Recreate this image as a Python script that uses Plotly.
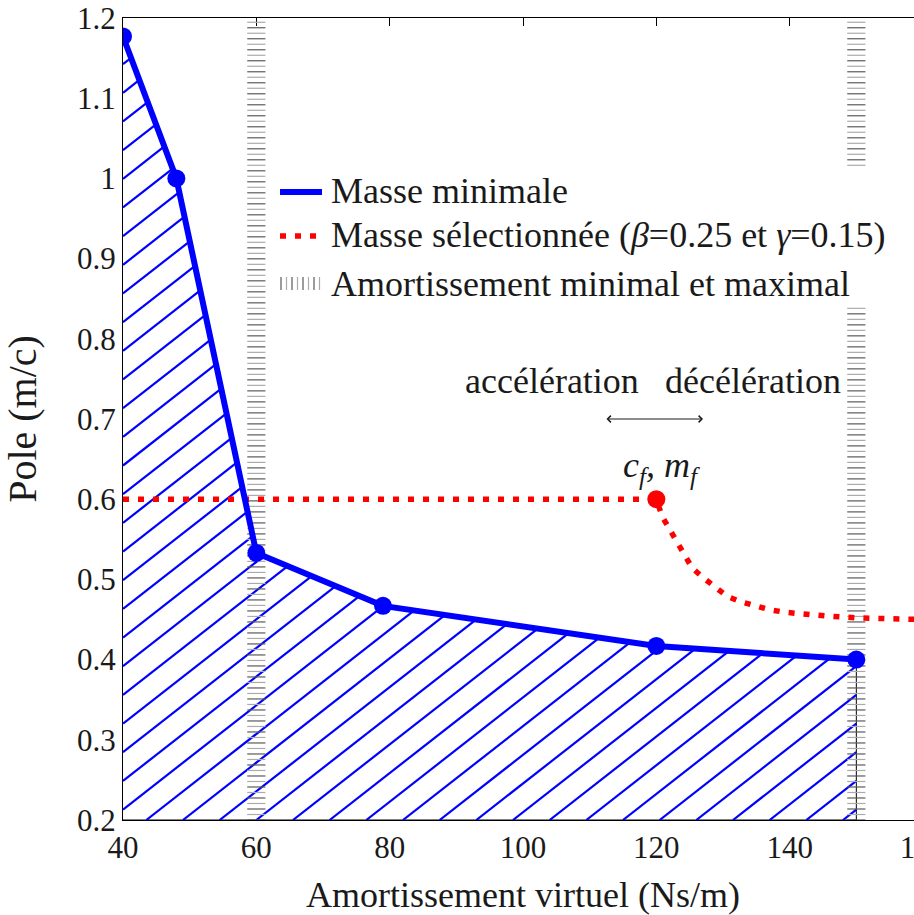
import numpy as np
import plotly.graph_objects as go

# Minimum-mass frontier: virtual damping (Ns/m) vs pole (m/c)
damping_min = [40, 48, 60, 79, 120, 150]
pole_min = [1.177, 1.0, 0.533, 0.467, 0.417, 0.400]

# Selected mass path (beta = 0.25, gamma = 0.15)
damping_sel = [40, 120, 120.9, 122.0, 123.0, 124.2, 125.4, 127.2, 129.0, 130.6,
               132.7, 134.9, 137.1, 139.3, 141.5, 146.0, 150.4, 155.0, 160.0]
pole_sel = [0.600, 0.600, 0.578, 0.562, 0.546, 0.528, 0.514, 0.501, 0.489, 0.479,
            0.472, 0.467, 0.462, 0.459, 0.457, 0.454, 0.452, 0.451, 0.450]

# Final operating point (c_f, m_f)
c_f = [120]
m_f = [0.600]

# Minimum and maximum damping
damping_limits = [60, 150]

x_ticks = [40, 60, 80, 100, 120, 140, 160]
y_ticks = [0.2, 0.3, 0.4, 0.5, 0.6, 0.7, 0.8, 0.9, 1.0, 1.1, 1.2]
y_tick_labels = ["0.2", "0.3", "0.4", "0.5", "0.6", "0.7", "0.8", "0.9", "1", "1.1", "1.2"]

X_RANGE = [40, 160]
Y_RANGE = [0.2, 1.2]

FONT = "'Liberation Serif', 'Times New Roman', 'DejaVu Serif', serif"
TXT = "#1a1a1a"
BLUE = "#0000ff"
RED = "#ff0000"

# Figure geometry (plot area in pixels)
W, H = 940, 915
ML, MR, MT, MB = 123, W - 923, 18, 95
PW, PH = W - ML - MR, H - MT - MB


def px(xp):
    return (xp - ML) / PW


def py(yp):
    return (H - MB - yp) / PH


fig = go.Figure()

# Region below the minimum-mass frontier (white patch, thin black edge)
poly_x = damping_min + [damping_min[-1], damping_min[0]]
poly_y = pole_min + [Y_RANGE[0], Y_RANGE[0]]
fig.add_trace(go.Scatter(
    x=poly_x, y=poly_y, mode="lines", fill="toself", fillcolor="white",
    line=dict(color="black", width=1), hoverinfo="skip", showlegend=False))

# Diagonal hatching clipped to the region under the frontier
hatch_step = 5.5
hatch_slope = 0.0065
hatch_start = 43.5
x_lo, x_hi, y_lo = damping_min[0], damping_min[-1], Y_RANGE[0]


def frontier(x):
    return float(np.interp(x, damping_min, pole_min))


hx, hy = [], []
for k in range(-40, 30):
    x0 = hatch_start + k * hatch_step

    def line(x):
        return y_lo + hatch_slope * (x - x0)

    if x0 >= x_lo:
        xs, ys = x0, y_lo
    else:
        xs, ys = x_lo, line(x_lo)
    if xs >= x_hi or ys >= frontier(xs):
        continue
    if line(x_hi) <= frontier(x_hi):
        xe = x_hi
    else:
        a, b = xs, x_hi
        for _ in range(60):
            mid = 0.5 * (a + b)
            if line(mid) < frontier(mid):
                a = mid
            else:
                b = mid
        xe = 0.5 * (a + b)
    hx += [xs, xe, None]
    hy += [ys, line(xe), None]

fig.add_trace(go.Scatter(
    x=hx, y=hy, mode="lines", line=dict(color=BLUE, width=2.2),
    hoverinfo="skip", showlegend=False))

# Damping limits drawn as stacks of short horizontal ticks
tick_y = np.arange(Y_RANGE[0], Y_RANGE[1] + 1e-9, 0.00686)
tick_cols = ["#5a5a5a" if i % 2 == 0 else "#ababab" for i in range(len(tick_y))]
for c in damping_limits:
    fig.add_trace(go.Scatter(
        x=[c] * len(tick_y), y=tick_y, mode="markers",
        marker=dict(symbol="line-ew", size=13,
                    line=dict(width=1.2, color=tick_cols)),
        hoverinfo="skip", showlegend=False))

# Selected mass
fig.add_trace(go.Scatter(
    x=damping_sel, y=pole_sel, mode="lines",
    line=dict(color=RED, width=5.5, dash="6px,9px"),
    hoverinfo="skip", showlegend=False))

# Minimum mass
fig.add_trace(go.Scatter(
    x=damping_min, y=pole_min, mode="lines+markers",
    line=dict(color=BLUE, width=6),
    marker=dict(color=BLUE, size=18),
    hoverinfo="skip", showlegend=False))

fig.add_trace(go.Scatter(
    x=c_f, y=m_f, mode="markers", marker=dict(color=RED, size=18),
    hoverinfo="skip", showlegend=False))

shapes = []
annotations = []

# Legend box
shapes.append(dict(type="rect", xref="paper", yref="paper",
                   x0=px(268), x1=px(902), y0=py(304), y1=py(166),
                   fillcolor="white", line=dict(width=0), layer="above"))
shapes.append(dict(type="line", xref="paper", yref="paper",
                   x0=px(280), x1=px(322), y0=py(192), y1=py(192),
                   line=dict(color=BLUE, width=6), layer="above"))
shapes.append(dict(type="line", xref="paper", yref="paper",
                   x0=px(280), x1=px(322), y0=py(236), y1=py(236),
                   line=dict(color=RED, width=5.5, dash="6px,9px"), layer="above"))
for i in range(8):
    xx = 281 + i * 5.5
    shapes.append(dict(type="line", xref="paper", yref="paper",
                       x0=px(xx), x1=px(xx), y0=py(277), y1=py(290),
                       line=dict(color="#5a5a5a" if i % 2 == 0 else "#ababab", width=1.2),
                       layer="above"))

legend_rows = [
    (191, "Masse minimale"),
    (235, "Masse sélectionnée (<i>β</i>=0.25 et <i>γ</i>=0.15)"),
    (284, "Amortissement minimal et maximal"),
]
for yy, label in legend_rows:
    annotations.append(dict(xref="paper", yref="paper", x=px(329), y=py(yy),
                            xanchor="left", yanchor="middle", text=label,
                            showarrow=False, font=dict(family=FONT, size=36, color=TXT)))

# Acceleration / deceleration labels and double arrow
annotations.append(dict(x=104.4, y=0.748, text="accélération", showarrow=False,
                        font=dict(family=FONT, size=36, color=TXT)))
annotations.append(dict(x=134.5, y=0.748, text="décélération", showarrow=False,
                        font=dict(family=FONT, size=36, color=TXT)))
annotations.append(dict(x=127.0, y=0.70, ax=112.3, ay=0.70, axref="x", ayref="y",
                        text="", showarrow=True, arrowhead=4, arrowside="end+start",
                        arrowsize=1.3, arrowwidth=1, arrowcolor=TXT))
annotations.append(dict(x=120.8, y=0.640,
                        text="<i>c</i><sub><i>f</i></sub><i>, m</i><sub><i>f</i></sub>",
                        showarrow=False, font=dict(family=FONT, size=36, color=TXT)))

axis_common = dict(showline=True, linecolor="black", linewidth=1.3, mirror="ticks",
                   ticks="inside", ticklen=8, tickwidth=1, tickcolor="black",
                   showgrid=False, zeroline=False, layer="below traces",
                   automargin=False, ticklabeloverflow="allow",
                   tickfont=dict(family=FONT, size=31, color=TXT))

fig.update_layout(
    width=W, height=H,
    margin=dict(l=ML, r=MR, t=MT, b=MB, autoexpand=False),
    plot_bgcolor="white", paper_bgcolor="white",
    showlegend=False,
    font=dict(family=FONT, color=TXT),
    xaxis=dict(range=X_RANGE, tickvals=x_ticks, ticktext=[str(v) for v in x_ticks],
               title=dict(text="Amortissement virtuel (Ns/m)", standoff=20,
                          font=dict(family=FONT, size=36, color=TXT)),
               **axis_common),
    yaxis=dict(range=Y_RANGE, tickvals=y_ticks, ticktext=y_tick_labels,
               title=dict(text="Pole (m/c)", standoff=28,
                          font=dict(family=FONT, size=40, color=TXT)),
               **axis_common),
    shapes=shapes,
    annotations=annotations,
)

fig.write_html(
    "out.html",
    post_script="document.body.style.margin='0';"
                "document.body.style.overflow='hidden';"
                "document.documentElement.style.overflow='hidden';")
